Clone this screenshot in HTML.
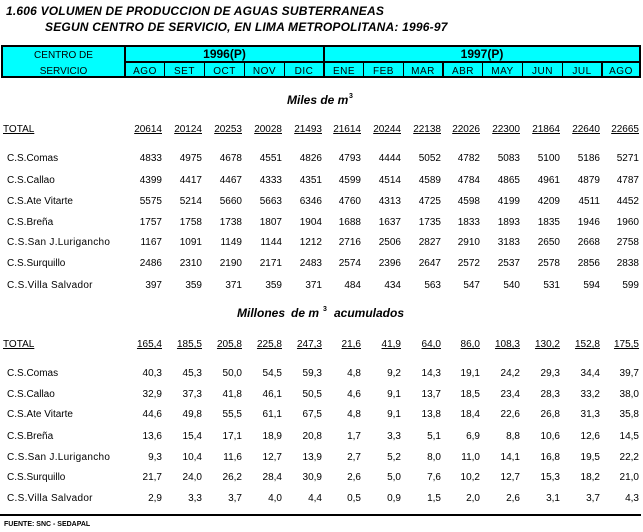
<!DOCTYPE html>
<html><head><meta charset="utf-8">
<style>
body{margin:0;width:643px;height:532px;background:#fff;position:relative;overflow:hidden;font-family:"Liberation Sans",Arial,sans-serif;color:#000}
.a{position:absolute;white-space:nowrap}
.ti{font-size:12px;line-height:14px;font-weight:bold;font-style:italic;letter-spacing:0.2px}
.hd{font-size:12px;line-height:14px;font-weight:bold;font-style:italic}
.sp{font-size:7px;line-height:8px;font-weight:bold}
.box{position:absolute;left:1px;top:45px;width:640px;height:33px;box-sizing:border-box;border:2px solid #000;background:#00ffff}
.v{position:absolute;background:#000}
.hc{position:absolute;font-size:10px;line-height:12px;text-align:center;white-space:nowrap}
.m{top:66px;letter-spacing:0.5px}
.r{position:absolute;left:0;width:643px;height:12px;font-size:10px;line-height:12px}
.r span{position:absolute;top:0;width:40px;text-align:right;white-space:nowrap}
.r span.l{left:7px;width:auto;text-align:left}
.t span{text-decoration:underline}
.t span.l{left:3px}
.c0{left:122px}.c1{left:162px}.c2{left:202px}.c3{left:242px}.c4{left:282px}
.c5{left:321px}.c6{left:361px}.c7{left:401px}.c8{left:440px}.c9{left:480px}
.c10{left:520px}.c11{left:560px}.c12{left:599px}
</style></head><body>

<div class="a ti" style="left:6px;top:4px">1.606 VOLUMEN DE PRODUCCION DE AGUAS SUBTERRANEAS</div>
<div class="a ti" style="left:45px;top:20px">SEGUN CENTRO DE SERVICIO, EN LIMA METROPOLITANA: 1996-97</div>

<div class="box"></div>
<div class="v" style="left:124px;top:45px;width:2px;height:33px"></div>
<div class="v" style="left:124px;top:61px;width:517px;height:2px"></div>
<div class="v" style="left:323px;top:45px;width:2px;height:33px"></div>
<div class="v" style="left:164px;top:61px;width:1px;height:17px"></div>
<div class="v" style="left:204px;top:61px;width:1px;height:17px"></div>
<div class="v" style="left:244px;top:61px;width:1px;height:17px"></div>
<div class="v" style="left:284px;top:61px;width:1px;height:17px"></div>
<div class="v" style="left:363px;top:61px;width:1px;height:17px"></div>
<div class="v" style="left:403px;top:61px;width:1px;height:17px"></div>
<div class="v" style="left:442px;top:61px;width:2px;height:17px"></div>
<div class="v" style="left:482px;top:61px;width:1px;height:17px"></div>
<div class="v" style="left:522px;top:61px;width:1px;height:17px"></div>
<div class="v" style="left:562px;top:61px;width:1px;height:17px"></div>
<div class="v" style="left:601px;top:61px;width:2px;height:17px"></div>

<div class="hc" style="left:3px;width:121px;top:50px">CENTRO DE</div>
<div class="hc" style="left:3px;width:121px;top:66px">SERVICIO</div>
<div class="hc" style="left:126px;width:197px;top:47px;font-size:12px;line-height:14px;font-weight:bold">1996(P)</div>
<div class="hc" style="left:325px;width:314px;top:47px;font-size:12px;line-height:14px;font-weight:bold">1997(P)</div>

<div class="hc m" style="left:126px;width:38px">AGO</div>
<div class="hc m" style="left:165px;width:39px">SET</div>
<div class="hc m" style="left:205px;width:39px">OCT</div>
<div class="hc m" style="left:245px;width:39px">NOV</div>
<div class="hc m" style="left:285px;width:38px">DIC</div>
<div class="hc m" style="left:325px;width:38px">ENE</div>
<div class="hc m" style="left:364px;width:39px">FEB</div>
<div class="hc m" style="left:404px;width:38px">MAR</div>
<div class="hc m" style="left:444px;width:38px">ABR</div>
<div class="hc m" style="left:483px;width:39px">MAY</div>
<div class="hc m" style="left:523px;width:39px">JUN</div>
<div class="hc m" style="left:563px;width:38px">JUL</div>
<div class="hc m" style="left:603px;width:36px">AGO</div>

<div class="a hd" style="left:287px;top:93px">Miles de m</div>
<div class="a sp" style="left:349px;top:93px">3</div>

<div class="r t" style="top:124px"><span class="l">TOTAL</span><span class="c0">20614</span><span class="c1">20124</span><span class="c2">20253</span><span class="c3">20028</span><span class="c4">21493</span><span class="c5">21614</span><span class="c6">20244</span><span class="c7">22138</span><span class="c8">22026</span><span class="c9">22300</span><span class="c10">21864</span><span class="c11">22640</span><span class="c12">22665</span></div>
<div class="r" style="top:153px"><span class="l">C.S.Comas</span><span class="c0">4833</span><span class="c1">4975</span><span class="c2">4678</span><span class="c3">4551</span><span class="c4">4826</span><span class="c5">4793</span><span class="c6">4444</span><span class="c7">5052</span><span class="c8">4782</span><span class="c9">5083</span><span class="c10">5100</span><span class="c11">5186</span><span class="c12">5271</span></div>
<div class="r" style="top:175px"><span class="l">C.S.Callao</span><span class="c0">4399</span><span class="c1">4417</span><span class="c2">4467</span><span class="c3">4333</span><span class="c4">4351</span><span class="c5">4599</span><span class="c6">4514</span><span class="c7">4589</span><span class="c8">4784</span><span class="c9">4865</span><span class="c10">4961</span><span class="c11">4879</span><span class="c12">4787</span></div>
<div class="r" style="top:196px"><span class="l">C.S.Ate Vitarte</span><span class="c0">5575</span><span class="c1">5214</span><span class="c2">5660</span><span class="c3">5663</span><span class="c4">6346</span><span class="c5">4760</span><span class="c6">4313</span><span class="c7">4725</span><span class="c8">4598</span><span class="c9">4199</span><span class="c10">4209</span><span class="c11">4511</span><span class="c12">4452</span></div>
<div class="r" style="top:217px"><span class="l">C.S.Breña</span><span class="c0">1757</span><span class="c1">1758</span><span class="c2">1738</span><span class="c3">1807</span><span class="c4">1904</span><span class="c5">1688</span><span class="c6">1637</span><span class="c7">1735</span><span class="c8">1833</span><span class="c9">1893</span><span class="c10">1835</span><span class="c11">1946</span><span class="c12">1960</span></div>
<div class="r" style="top:237px"><span class="l" style="letter-spacing:0.3px">C.S.San J.Lurigancho</span><span class="c0">1167</span><span class="c1">1091</span><span class="c2">1149</span><span class="c3">1144</span><span class="c4">1212</span><span class="c5">2716</span><span class="c6">2506</span><span class="c7">2827</span><span class="c8">2910</span><span class="c9">3183</span><span class="c10">2650</span><span class="c11">2668</span><span class="c12">2758</span></div>
<div class="r" style="top:258px"><span class="l">C.S.Surquillo</span><span class="c0">2486</span><span class="c1">2310</span><span class="c2">2190</span><span class="c3">2171</span><span class="c4">2483</span><span class="c5">2574</span><span class="c6">2396</span><span class="c7">2647</span><span class="c8">2572</span><span class="c9">2537</span><span class="c10">2578</span><span class="c11">2856</span><span class="c12">2838</span></div>
<div class="r" style="top:280px"><span class="l" style="letter-spacing:0.3px">C.S.Villa Salvador</span><span class="c0">397</span><span class="c1">359</span><span class="c2">371</span><span class="c3">359</span><span class="c4">371</span><span class="c5">484</span><span class="c6">434</span><span class="c7">563</span><span class="c8">547</span><span class="c9">540</span><span class="c10">531</span><span class="c11">594</span><span class="c12">599</span></div>

<div class="a hd" style="left:237px;top:306px">Millones</div>
<div class="a hd" style="left:291px;top:306px">de m</div>
<div class="a sp" style="left:323px;top:306px">3</div>
<div class="a hd" style="left:334px;top:306px">acumulados</div>

<div class="r t" style="top:339px"><span class="l">TOTAL</span><span class="c0">165,4</span><span class="c1">185,5</span><span class="c2">205,8</span><span class="c3">225,8</span><span class="c4">247,3</span><span class="c5">21,6</span><span class="c6">41,9</span><span class="c7">64,0</span><span class="c8">86,0</span><span class="c9">108,3</span><span class="c10">130,2</span><span class="c11">152,8</span><span class="c12">175,5</span></div>
<div class="r" style="top:368px"><span class="l">C.S.Comas</span><span class="c0">40,3</span><span class="c1">45,3</span><span class="c2">50,0</span><span class="c3">54,5</span><span class="c4">59,3</span><span class="c5">4,8</span><span class="c6">9,2</span><span class="c7">14,3</span><span class="c8">19,1</span><span class="c9">24,2</span><span class="c10">29,3</span><span class="c11">34,4</span><span class="c12">39,7</span></div>
<div class="r" style="top:389px"><span class="l">C.S.Callao</span><span class="c0">32,9</span><span class="c1">37,3</span><span class="c2">41,8</span><span class="c3">46,1</span><span class="c4">50,5</span><span class="c5">4,6</span><span class="c6">9,1</span><span class="c7">13,7</span><span class="c8">18,5</span><span class="c9">23,4</span><span class="c10">28,3</span><span class="c11">33,2</span><span class="c12">38,0</span></div>
<div class="r" style="top:409px"><span class="l">C.S.Ate Vitarte</span><span class="c0">44,6</span><span class="c1">49,8</span><span class="c2">55,5</span><span class="c3">61,1</span><span class="c4">67,5</span><span class="c5">4,8</span><span class="c6">9,1</span><span class="c7">13,8</span><span class="c8">18,4</span><span class="c9">22,6</span><span class="c10">26,8</span><span class="c11">31,3</span><span class="c12">35,8</span></div>
<div class="r" style="top:431px"><span class="l">C.S.Breña</span><span class="c0">13,6</span><span class="c1">15,4</span><span class="c2">17,1</span><span class="c3">18,9</span><span class="c4">20,8</span><span class="c5">1,7</span><span class="c6">3,3</span><span class="c7">5,1</span><span class="c8">6,9</span><span class="c9">8,8</span><span class="c10">10,6</span><span class="c11">12,6</span><span class="c12">14,5</span></div>
<div class="r" style="top:452px"><span class="l" style="letter-spacing:0.3px">C.S.San J.Lurigancho</span><span class="c0">9,3</span><span class="c1">10,4</span><span class="c2">11,6</span><span class="c3">12,7</span><span class="c4">13,9</span><span class="c5">2,7</span><span class="c6">5,2</span><span class="c7">8,0</span><span class="c8">11,0</span><span class="c9">14,1</span><span class="c10">16,8</span><span class="c11">19,5</span><span class="c12">22,2</span></div>
<div class="r" style="top:472px"><span class="l">C.S.Surquillo</span><span class="c0">21,7</span><span class="c1">24,0</span><span class="c2">26,2</span><span class="c3">28,4</span><span class="c4">30,9</span><span class="c5">2,6</span><span class="c6">5,0</span><span class="c7">7,6</span><span class="c8">10,2</span><span class="c9">12,7</span><span class="c10">15,3</span><span class="c11">18,2</span><span class="c12">21,0</span></div>
<div class="r" style="top:493px"><span class="l" style="letter-spacing:0.3px">C.S.Villa Salvador</span><span class="c0">2,9</span><span class="c1">3,3</span><span class="c2">3,7</span><span class="c3">4,0</span><span class="c4">4,4</span><span class="c5">0,5</span><span class="c6">0,9</span><span class="c7">1,5</span><span class="c8">2,0</span><span class="c9">2,6</span><span class="c10">3,1</span><span class="c11">3,7</span><span class="c12">4,3</span></div>

<div class="v" style="left:0;top:514px;width:641px;height:2px"></div>
<div class="a" style="left:4px;top:521px;font-size:7px;line-height:8px;font-weight:bold">FUENTE: SNC - SEDAPAL</div>

</body></html>
